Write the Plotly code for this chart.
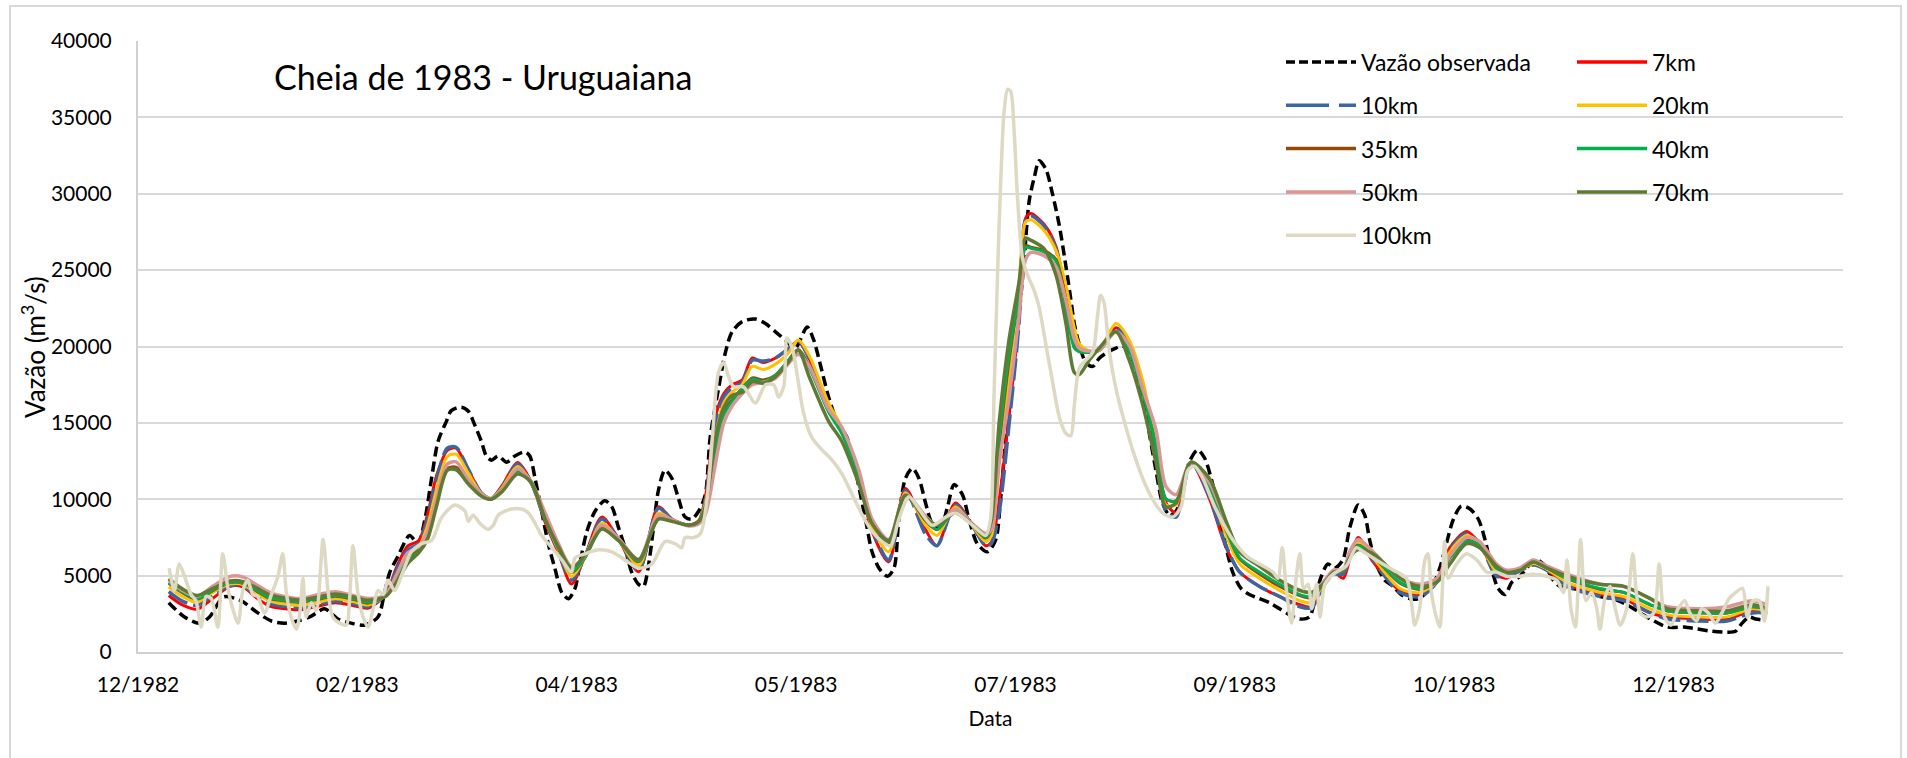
import pandas as pd
import plotly.graph_objects as go

# ---------------- DATA ----------------
INICIO = "1983-01-01"   # dia 0 das series

dias_obs = [0, 3.6, 7.0, 9.3, 12.5, 16.5, 20.3, 23.4, 26.4, 29.4,
            32.5, 35.5, 38.6, 41.6, 44.7, 47.7, 49.2, 50.4, 52.3, 54.9,
            56.8, 58.4, 59.9, 61.4, 63.3, 64.4, 66.7, 68.3, 69.8, 71.3,
            72.4, 73.6, 75.1, 77.0, 78.9, 81.2, 82.3, 83.5, 85.0, 86.5,
            88.0, 89.6, 91.1, 92.6, 93.7, 95.3, 97.2, 99.4, 101.0, 102.5,
            104.0, 105.5, 107.1, 108.2, 109.4, 110.5, 111.6, 113.1, 114.7, 116.2,
            117.7, 119.2, 120.8, 122.3, 123.4, 125.3, 126.9, 128.4, 130.7, 133.7,
            136.0, 138.3, 140.5, 142.8, 145.5, 147.0, 148.5, 150.4, 152.3, 154.6,
            158.8, 160.3, 161.9, 163.8, 165.3, 166.4, 167.9, 169.5, 171.0, 172.5,
            174.0, 175.9, 177.5, 179.0, 180.9, 182.4, 184.3, 186.6, 188.5, 189.6,
            190.8, 192.3, 193.8, 195.0, 196.1, 197.3, 198.4, 199.9, 201.4, 203.0,
            204.5, 205.6, 206.4, 207.5, 209.0, 210.6, 212.1, 214.0, 215.9, 217.4,
            218.9, 220.4, 222.0, 223.5, 225.0, 226.5, 228.1, 229.6, 231.1, 232.6,
            234.5, 236.1, 237.6, 239.1, 240.6, 242.5, 244.4, 246.3, 248.6, 250.9,
            253.2, 255.5, 257.8, 260.0, 261.2, 262.7, 264.2, 265.7, 267.6, 269.2,
            271.1, 272.6, 273.7, 275.2, 277.2, 279.1, 280.9, 282.9, 284.8, 286.7,
            288.2, 289.7, 291.2, 292.8, 294.6, 296.6, 298.5, 300.0, 301.5, 303.0,
            304.6, 306.1, 308.0, 310.3, 311.8, 313.7, 315.6, 317.1, 320.1, 323.2,
            326.2, 329.3, 332.3, 335.4, 337.7, 341.6, 345.4, 348.5, 351.7, 355.1,
            357.1, 358.6, 360.2, 361.7, 363.5]
vazao_obs = [3230, 2290, 1890, 2290, 3600, 3360, 2560, 2030, 1890, 2030,
             2350, 2830, 2160, 1890, 1760, 2290, 3890, 5230, 6290, 7630,
             7100, 8690, 11360, 13800, 15100, 15800, 16030, 15760, 14830, 13760,
             12830, 12560, 12830, 12430, 12830, 13100, 12830, 11360, 9230, 7090,
             5490, 3890, 3490, 4160, 5760, 7890, 9230, 9900, 9500, 8160,
             6830, 5230, 4430, 4290, 5760, 8160, 10560, 11900, 11360, 10030,
             8830, 8690, 9230, 10300, 14030, 17230, 19630, 20960, 21630, 21800,
             21500, 20960, 20430, 19900, 21280, 20430, 18830, 16700, 15100, 14030,
             8690, 6560, 5490, 4960, 5490, 8690, 11360, 12030, 11360, 9760,
             8430, 8160, 9500, 10960, 10300, 8690, 7090, 6560, 7360, 10030,
             14030, 17760, 22030, 25760, 29500, 31100, 32160, 31630, 30030, 27900,
             25230, 23100, 21500, 20160, 18960, 18700, 19230, 19630, 19900, 20030,
             19630, 18560, 16700, 14300, 11900, 9760, 8960, 9230, 10560, 12430,
             13230, 12700, 11360, 9500, 7360, 5230, 4160, 3760, 3490, 3230,
             2830, 2430, 2160, 2290, 3360, 4960, 5760, 5490, 6030, 8160,
             9630, 8960, 7360, 5760, 4690, 4290, 3760, 3490, 3490, 3890,
             4430, 5490, 7090, 8690, 9550, 9360, 8690, 7360, 5490, 4160,
             3760, 4560, 4960, 5760, 6030, 5630, 4690, 4290, 4160, 3950,
             3630, 3490, 3090, 2560, 2160, 1630, 1630, 1500, 1360, 1300,
             1360, 1890, 2290, 2160, 2100]

dias_mod = [0, 3, 6.5, 10, 14, 17, 20, 23, 26, 30,
            34, 38, 42, 45.5, 49.5, 52, 54.5, 57, 59, 61,
            63.5, 65.5, 68.3, 71.3, 73.5, 76, 79.5, 82.5, 85.8, 88.8,
            91.8, 94.9, 98.7, 102.5, 107.1, 111.6, 114.7, 118.5, 120.8, 122.3,
            124.6, 126.5, 128.4, 130.7, 133, 135.5, 138.2, 141, 143.5, 146,
            150.4, 153.4, 157.3, 160.3, 164.1, 167.9, 172.5, 175.1, 179.3, 183.1,
            186.2, 187.5, 189.3, 191.5, 193.8, 195.3, 196.5, 199.5, 202.2, 204.5,
            206.4, 207.5, 209.8, 212.1, 215.9, 218.9, 222, 225, 227.3, 229.6,
            233, 237.2, 241, 244.1, 248.6, 253.2, 257.8, 260.5, 263.1, 265.5,
            267.7, 269.2, 271.1, 274.5, 280.6, 285.2, 289, 292, 295.8, 298.8,
            302.6, 304.9, 308, 311, 314.1, 318.7, 326.2, 331.6, 337.7, 341.6,
            349.4, 355.2, 360.9, 364.4]

q_7km = [3700, 3100, 2800, 3500, 4300, 4250, 3550, 3000, 2850, 2770,
         3000, 3230, 3050, 2880, 3800, 5600, 6950, 7300, 9000, 11500,
         13200, 13350, 11900, 10400, 10050, 10900, 12400, 11200, 8500, 6500,
         4450, 6300, 8830, 7400, 5250, 9500, 8700, 8300, 8600, 10100,
         15400, 16900, 17500, 17800, 19250, 18950, 19230, 19800, 20350, 19200,
         16160, 14600, 11400, 7900, 5900, 10700, 8000, 6960, 9760, 8300,
         6960, 7200, 10000, 15400, 22000, 28400, 28700, 28000, 26560, 23360,
         20960, 20000, 19630, 19760, 21230, 20160, 17500, 13230, 9760, 9100,
         12400, 10030, 6830, 5230, 4290, 3630, 3090, 2960, 4430, 5230,
         4830, 6100, 7490, 5900, 4030, 3760, 4700, 6830, 7890, 7090,
         5090, 4830, 5360, 5760, 5360, 4430, 3760, 3490, 2560, 2290,
         2160, 2160, 2690, 2560]
q_10km = [3950, 3350, 3050, 3700, 4350, 4300, 3700, 3150, 3000, 2900,
          3100, 3330, 3150, 2960, 3800, 5400, 6700, 7100, 8700, 11200,
          13350, 13400, 11950, 10400, 10050, 10800, 12300, 11150, 8600, 6600,
          4700, 6250, 8700, 7400, 5350, 9400, 8700, 8300, 8550, 9900,
          14900, 16700, 17300, 17650, 19100, 19050, 19230, 19800, 20350, 19200,
          16160, 14600, 11500, 8100, 6030, 10550, 7700, 6960, 9630, 8300,
          6960, 7100, 9200, 14800, 21500, 28300, 28560, 27900, 26400, 23300,
          20900, 20000, 19630, 19760, 21230, 20160, 17400, 13200, 9230, 8830,
          12400, 10160, 6960, 5230, 4290, 3630, 2960, 2900, 4300, 5100,
          5100, 6300, 7360, 6030, 3900, 3630, 4560, 6700, 7760, 7100,
          4960, 5000, 5300, 5700, 5360, 4300, 3630, 3360, 2560, 2160,
          2030, 2030, 2560, 2560]
q_20km = [4250, 3650, 3250, 3900, 4450, 4400, 3850, 3350, 3150, 3050,
          3250, 3480, 3300, 3080, 3750, 5100, 6400, 6900, 8300, 10600,
          12800, 12950, 11700, 10350, 10050, 10750, 12150, 11150, 8700, 6700,
          4950, 6250, 8450, 7350, 5650, 9100, 8650, 8300, 8550, 9700,
          14100, 16300, 17000, 17500, 18700, 18500, 18830, 19500, 20430, 19400,
          16300, 14700, 11500, 8200, 6560, 10430, 8300, 7630, 9500, 8300,
          7230, 7600, 12700, 18000, 24200, 28160, 28300, 27600, 26300, 24000,
          21230, 20200, 19700, 19800, 21500, 20430, 17760, 13500, 9630, 9630,
          12430, 10560, 7630, 5760, 4830, 4030, 3360, 3230, 4430, 5230,
          5300, 6400, 7230, 6160, 4160, 3900, 4600, 6560, 7630, 7100,
          5230, 5200, 5360, 5800, 5430, 4560, 3900, 3630, 2830, 2430,
          2290, 2300, 2830, 2700]
q_35km = [4500, 3900, 3450, 4000, 4550, 4500, 4000, 3500, 3350, 3250,
          3450, 3650, 3450, 3200, 3700, 4900, 6100, 6700, 7800, 9900,
          12000, 12100, 11200, 10300, 10000, 10650, 11900, 11100, 8800, 6800,
          5200, 6200, 8200, 7350, 5900, 8850, 8600, 8300, 8500, 9400,
          13200, 15700, 16500, 17250, 17950, 17800, 18100, 19000, 19800, 18700,
          15800, 14400, 11500, 8500, 7100, 10300, 8600, 8000, 9300, 8350,
          7450, 8000, 13600, 19000, 23500, 26600, 26500, 26300, 25700, 23000,
          20200, 19800, 19650, 19760, 21000, 19800, 17000, 13500, 10000, 9900,
          12430, 10830, 8000, 6100, 5100, 4300, 3700, 3550, 4430, 5230,
          5300, 6400, 7000, 6280, 4500, 4100, 4650, 6200, 7300, 7000,
          5500, 5230, 5400, 5900, 5500, 4800, 4100, 3900, 3090, 2690,
          2560, 2560, 2960, 2830]
q_40km = [4550, 3950, 3500, 4050, 4550, 4500, 4050, 3550, 3400, 3300,
          3500, 3700, 3500, 3250, 3700, 4850, 6000, 6600, 7700, 9800,
          11900, 11900, 11100, 10250, 10000, 10600, 11850, 11100, 8800, 6850,
          5250, 6200, 8050, 7300, 5950, 8750, 8600, 8300, 8500, 9300,
          13000, 15500, 16400, 17230, 17850, 17700, 18100, 19000, 19760, 18600,
          15700, 14300, 11400, 8500, 7230, 10300, 8700, 8030, 9230, 8350,
          7500, 8100, 14000, 19400, 23400, 26500, 26430, 26200, 25600, 22500,
          19900, 19650, 19630, 19760, 20960, 19700, 16960, 13500, 10030, 9900,
          12430, 10830, 8030, 6160, 5230, 4430, 3760, 3630, 4430, 5230,
          5360, 6400, 6960, 6300, 4560, 4160, 4700, 6160, 7230, 7000,
          5500, 5230, 5400, 5900, 5500, 4830, 4160, 3900, 3090, 2690,
          2560, 2560, 2960, 2830]
q_50km = [4700, 4050, 3650, 4300, 4950, 4900, 4400, 3900, 3650, 3500,
          3750, 3950, 3700, 3500, 3750, 5100, 6500, 6900, 7900, 10000,
          12300, 12450, 11300, 10350, 10050, 10600, 12000, 11200, 9100, 7100,
          5600, 6300, 8300, 7450, 6050, 8950, 8650, 8250, 8400, 9000,
          12300, 15000, 16100, 16900, 17500, 17650, 17900, 18800, 19500, 18700,
          15900, 14700, 11900, 8700, 7360, 10300, 8900, 8300, 9360, 8400,
          7750, 8000, 12400, 16600, 22000, 25700, 26160, 25950, 25230, 23000,
          20500, 19900, 19700, 19760, 20960, 20100, 17230, 14560, 10830, 10300,
          12430, 11100, 8430, 6560, 5630, 4700, 4030, 3900, 4560, 5360,
          5400, 6600, 7360, 6560, 4830, 4430, 4830, 6300, 7500, 7230,
          5760, 5360, 5500, 6030, 5630, 5090, 4430, 4300, 3490, 2960,
          2830, 2960, 3360, 3090]
q_70km = [4800, 4150, 3700, 4150, 4650, 4600, 4200, 3750, 3550, 3400,
          3600, 3800, 3600, 3380, 3650, 4600, 5800, 6500, 7400, 9500,
          11900, 11950, 11000, 10200, 10000, 10500, 11650, 11150, 8700, 6900,
          5500, 6350, 8050, 7300, 6050, 8700, 8550, 8300, 8550, 9500,
          14000, 16000, 16800, 17000, 17700, 17600, 18000, 18900, 19760, 18000,
          15100, 13800, 11000, 8400, 7300, 10250, 8800, 8300, 9100, 8350,
          7630, 8600, 15100, 20400, 24200, 27100, 26960, 26400, 24700, 21500,
          18300, 18160, 19100, 19900, 20960, 19100, 16160, 12430, 9500, 9750,
          12430, 11360, 8560, 6560, 5630, 4700, 4030, 3900, 4430, 5230,
          5300, 6200, 6700, 6430, 4830, 4300, 4560, 5760, 7090, 6830,
          5630, 5230, 5360, 5900, 5500, 4960, 4430, 4300, 3490, 2830,
          2690, 2700, 3090, 2830]

dias_100 = [0.1, 1.3, 2.4, 3.6, 5.1, 6.2, 7.4, 8.5, 9.7, 11.2,
            12.3, 13.5, 14.6, 15.8, 16.9, 18.0, 19.2, 20.3, 21.8, 23.4,
            24.9, 26.0, 26.8, 27.9, 29.1, 30.0, 30.6, 31.3, 32.5, 33.6,
            35.2, 36.3, 37.4, 39.0, 40.5, 41.2, 42.0, 43.1, 44.3, 45.4,
            46.6, 47.7, 48.9, 50.0, 51.5, 53.0, 55.3, 57.6, 59.9, 62.2,
            65.2, 67.5, 68.3, 69.4, 70.9, 72.8, 74.0, 75.1, 78.1, 80.4,
            82.0, 83.5, 85.0, 87.3, 89.6, 91.8, 92.6, 94.9, 97.9, 101.0,
            104.0, 107.1, 110.1, 113.1, 115.4, 116.9, 117.7, 119.6, 121.2, 122.7,
            123.9, 125.3, 126.5, 127.6, 128.8, 131.0, 133.7, 136.0, 137.9, 139.0,
            140.2, 140.9, 142.1, 143.6, 144.7, 146.6, 148.9, 151.2, 153.5, 155.8,
            158.1, 160.3, 162.6, 164.5, 166.4, 168.7, 171.0, 174.0, 177.1, 179.4,
            183.2, 186.2, 187.3, 188.1, 188.9, 189.6, 190.4, 191.2, 191.9, 192.7,
            193.4, 194.6, 195.7, 197.3, 198.4, 199.9, 201.4, 203.0, 204.5, 205.6,
            206.4, 207.5, 209.0, 210.6, 211.7, 212.4, 213.2, 214.3, 215.9, 217.8,
            219.7, 222.0, 224.2, 226.5, 228.8, 230.7, 232.3, 233.8, 235.7, 238.0,
            240.3, 242.5, 245.6, 248.6, 251.7, 252.8, 253.8, 254.7, 255.9, 257.0,
            257.8, 258.7, 259.7, 260.5, 261.6, 262.4, 263.5, 265.4, 268.4, 270.7,
            272.3, 275.2, 279.1, 282.1, 283.2, 284.0, 285.1, 286.3, 287.0, 287.8,
            288.9, 289.7, 290.8, 291.6, 293.5, 295.8, 298.1, 300.4, 302.6, 304.9,
            308.0, 311.0, 314.1, 316.4, 317.9, 318.7, 319.6, 320.6, 321.8, 323.0,
            324.3, 325.5, 326.2, 327.4, 328.5, 329.7, 330.8, 332.3, 333.7, 334.5,
            335.4, 336.9, 338.5, 339.7, 340.9, 342.4, 344.0, 345.5, 346.7, 348.2,
            349.4, 350.9, 352.5, 354.0, 355.6, 357.1, 358.7, 359.8, 361.0, 362.5,
            363.7, 364.5]
q_100km = [5490, 4030, 5760, 4960, 3760, 3360, 1630, 3630, 3490, 1630,
           6430, 4160, 2830, 1890, 4030, 4690, 3760, 3630, 2560, 3760,
           4960, 6430, 3890, 2290, 1490, 2830, 4830, 2290, 3230, 2690,
           7360, 4030, 2290, 1890, 1760, 3360, 6960, 3890, 2290, 1630,
           2830, 4030, 3760, 4690, 4030, 4960, 6560, 7090, 7300, 8800,
           9630, 9230, 8560, 8960, 8430, 8030, 8300, 8960, 9360, 9360,
           9100, 8430, 7630, 6830, 6030, 5230, 6160, 6430, 6690, 6560,
           6030, 5490, 5760, 7230, 7090, 6830, 7490, 7490, 7760, 10030,
           14030, 18300, 18960, 18030, 17360, 17360, 16300, 17490, 17490, 16690,
           17400, 20560, 19900, 17490, 15630, 14030, 13230, 12560, 11630, 10300,
           8960, 7890, 7230, 6960, 8690, 10160, 9360, 8300, 8830, 9100,
           8300, 7630, 8690, 16690, 24700, 30560, 35360, 36830, 36700, 34030,
           30030, 25760, 24700, 23630, 22560, 20160, 17760, 15360, 14300, 14160,
           16130, 18560, 19100, 19630, 22030, 23360, 22830, 19900, 17230, 15100,
           13230, 11360, 10030, 9100, 8830, 9490, 11900, 12160, 11360, 9760,
           8430, 7360, 6290, 5760, 5230, 4830, 6830, 4160, 1890, 4960,
           6430, 4160, 4430, 2830, 4430, 2290, 4430, 5100, 5630, 6830,
           6560, 6030, 5360, 4830, 3360, 1760, 2830, 6030, 6430, 3890,
           2290, 1630, 7230, 4830, 5760, 6430, 6030, 5230, 5230, 4960,
           4960, 5090, 4960, 4690, 3890, 6030, 2830, 1630, 7360, 3360,
           3890, 2830, 1490, 3630, 4290, 2830, 1760, 2830, 6430, 3890,
           2560, 2290, 2560, 5760, 2290, 1760, 2830, 3360, 2560, 2030,
           2830, 2560, 1890, 2560, 3490, 3890, 4160, 2290, 3360, 3360,
           2030, 4290]

rotulo_titulo = "Cheia de 1983 - Uruguaiana"
rotulo_x = "Data"
rotulo_y = "Vazão (m<sup>3</sup>/s)"

# ---------------- STYLE ----------------
FONTE = "Lato"
W, H = 1907, 758
PL, PR, PT, PB = 138, 1843, 41, 652   # plot area in px

series = [
    # name, days, values, color, width, dash
    ("Vazão observada", dias_obs, vazao_obs, "#000000", 3.5, "10px,5px"),
    ("7km", dias_mod, q_7km, "#FF0000", 3, "solid"),
    ("10km", dias_mod, q_10km, "#3B66A3", 3.5, "22px,6px"),
    ("20km", dias_mod, q_20km, "#FFC000", 3, "solid"),
    ("35km", dias_mod, q_35km, "#974706", 3, "solid"),
    ("40km", dias_mod, q_40km, "#00B050", 3, "solid"),
    ("50km", dias_mod, q_50km, "#DA9694", 3.5, "solid"),
    ("70km", dias_mod, q_70km, "#5F7A35", 3.5, "solid"),
    ("100km", dias_100, q_100km, "#DDD9C3", 3.5, "solid"),
]
legend_dash = {"Vazão observada": "9px,4px", "10km": "43px,10px"}

base = pd.Timestamp(INICIO)


def to_dates(days):
    return [base + pd.Timedelta(days=float(d)) for d in days]


fig = go.Figure()
for name, d, q, color, width, dash in series:
    fig.add_trace(go.Scatter(
        x=to_dates(d), y=q, mode="lines", name=name,
        line=dict(color=color, width=width, dash=dash, shape="spline", smoothing=0.8),
        showlegend=False,
    ))


def px_x(px):
    return (px - PL) / (PR - PL)


def px_y(py):
    return (PB - py) / (PB - PT)


# Axis range: ticks every 50 days starting 7 days before the first record
x0 = base - pd.Timedelta(days=7)
x1 = x0 + pd.Timedelta(days=388.6)

fig.update_xaxes(
    type="date", range=[x0, x1], tick0=x0, dtick=50 * 86400000, tickformat="%m/%Y",
    showgrid=False, zeroline=False, showline=True, linecolor="#D0D0D0", linewidth=2,
    ticks="outside", ticklen=13, tickcolor="rgba(0,0,0,0)",
    tickfont=dict(family=FONTE, size=21, color="#000000"),
    title=dict(text=rotulo_x, font=dict(family=FONTE, size=21, color="#000000"), standoff=16),
)
fig.update_yaxes(
    range=[0, 40000], dtick=5000, tickformat="d",
    showgrid=True, gridcolor="#D9D9D9", gridwidth=1.5, zeroline=False,
    showline=True, linecolor="#D0D0D0", linewidth=2,
    ticks="outside", ticklen=20, tickcolor="rgba(0,0,0,0)",
    tickfont=dict(family=FONTE, size=21, color="#000000"),
)

shapes = [dict(type="rect", xref="paper", yref="paper",
               x0=px_x(10), x1=px_x(1901), y0=px_y(6), y1=px_y(820),
               line=dict(color="#D9D9D9", width=2), fillcolor="rgba(0,0,0,0)", layer="below")]
annotations = [
    dict(text=rotulo_titulo, xref="paper", yref="paper", x=px_x(272), y=px_y(77),
         xanchor="left", yanchor="middle", showarrow=False,
         font=dict(family=FONTE, size=34, color="#000000")),
    dict(text=rotulo_y, xref="paper", yref="paper", x=px_x(33), y=px_y(347),
         xanchor="center", yanchor="middle", textangle=-90, showarrow=False,
         font=dict(family=FONTE, size=26, color="#000000")),
]

# Legend: two columns, row-wise fill (Excel style)
col_x = [1286, 1577]
row_y0, row_dy = 62, 43.3
for i, (name, d, q, color, width, dash) in enumerate(series):
    col, row = i % 2, i // 2
    xs, ys = col_x[col], row_y0 + row * row_dy
    shapes.append(dict(type="line", xref="paper", yref="paper",
                       x0=px_x(xs), x1=px_x(xs + 70), y0=px_y(ys), y1=px_y(ys),
                       line=dict(color=color, width=3.5,
                                 dash=legend_dash.get(name, "solid"))))
    annotations.append(dict(text=name, xref="paper", yref="paper", x=px_x(xs + 73), y=px_y(ys),
                            xanchor="left", yanchor="middle", showarrow=False,
                            font=dict(family=FONTE, size=23, color="#000000")))

fig.update_layout(
    width=W, height=H,
    margin=dict(l=PL, r=W - PR, t=PT, b=H - PB),
    paper_bgcolor="white", plot_bgcolor="white",
    font=dict(family=FONTE, size=21, color="#000000"),
    showlegend=False, shapes=shapes, annotations=annotations,
)

fig.write_html("out.html")
